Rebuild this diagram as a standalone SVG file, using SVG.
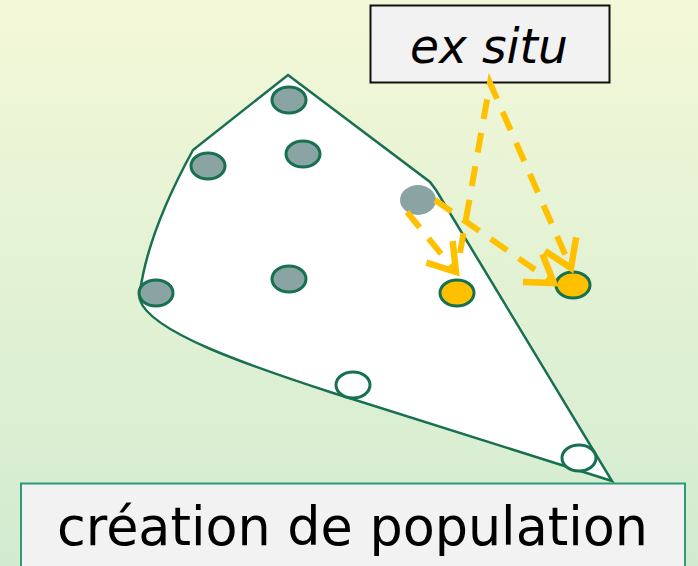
<svg xmlns="http://www.w3.org/2000/svg" width="698" height="566" viewBox="0 0 698 566">
<defs>
<linearGradient id="bg" x1="0" y1="0" x2="0" y2="1">
<stop offset="0" stop-color="#f3f8d8"/>
<stop offset="1" stop-color="#d2ebd0"/>
</linearGradient>
<marker id="head" markerUnits="userSpaceOnUse" orient="auto" refX="0" refY="0" markerWidth="50" markerHeight="50" viewBox="-35 -25 50 50" overflow="visible">
<path d="M-26,-17 L0,0 L-26,17" fill="none" stroke="#ffc000" stroke-width="6.5" stroke-linejoin="miter"/>
</marker>
<style>
.node{stroke:#17704f;stroke-width:3}
.grey{fill:#8aa3a3}
.orange{fill:#ffc000}
.white{fill:#ffffff}
.dash{fill:none;stroke:#ffc000;stroke-width:6;stroke-dasharray:20 14}
.label{font-family:"DejaVu Sans","Liberation Sans",sans-serif;fill:#000}
</style>
</defs>
<rect x="0" y="0" width="698" height="566" fill="url(#bg)"/>
<g id="region">
<path d="M288,75 L430,182 Q433,186 436,190 L612,481 L330,392 C250,366 150,332 140,300 Q139,296 140,292 Q148,232 193,150 Z" fill="#ffffff" stroke="#19704f" stroke-width="2.5" stroke-linejoin="miter"/>
</g>
<g id="exsitu">
<rect x="370.5" y="5.5" width="239" height="77" fill="#f2f2f2" stroke="#111" stroke-width="2"/>
<text class="label" x="489" y="63" font-size="48" font-style="italic" text-anchor="middle" textLength="158" lengthAdjust="spacingAndGlyphs">ex situ</text>
</g>
<g id="creation">
<rect x="21" y="483.5" width="664" height="90" fill="#f2f2f2" stroke="#2e9a78" stroke-width="2"/>
<text class="label" x="57" y="545" font-size="54" textLength="591" lengthAdjust="spacingAndGlyphs">création de population</text>
</g>
<g id="n1"><ellipse class="node grey" cx="289" cy="100" rx="17" ry="13"/></g>
<g id="n2"><ellipse class="node grey" cx="303" cy="154" rx="17" ry="13"/></g>
<g id="n3"><ellipse class="node grey" cx="208" cy="166" rx="17" ry="13"/></g>
<g id="n4"><ellipse class="node grey" cx="289" cy="279" rx="17" ry="13"/></g>
<g id="n5"><ellipse class="node grey" cx="156" cy="293" rx="17" ry="13"/></g>
<g id="n6"><ellipse class="grey" cx="418" cy="200" rx="18" ry="15"/></g>
<g id="n7"><ellipse class="node orange" cx="457" cy="293" rx="17" ry="13"/></g>
<g id="n8"><ellipse class="node orange" cx="573" cy="285" rx="17" ry="13"/></g>
<g id="n9"><ellipse class="node white" cx="353" cy="385" rx="17" ry="13"/></g>
<g id="n10"><ellipse class="node white" cx="579" cy="458" rx="17" ry="13"/></g>
<g id="connectors">
<path class="dash" d="M407,212 L456,272" marker-end="url(#head)"/>
<path class="dash" d="M435,200 L554,283" marker-end="url(#head)"/>
<path class="dash" d="M460,253 L490,83 L571,268" marker-end="url(#head)"/>
</g>
</svg>
